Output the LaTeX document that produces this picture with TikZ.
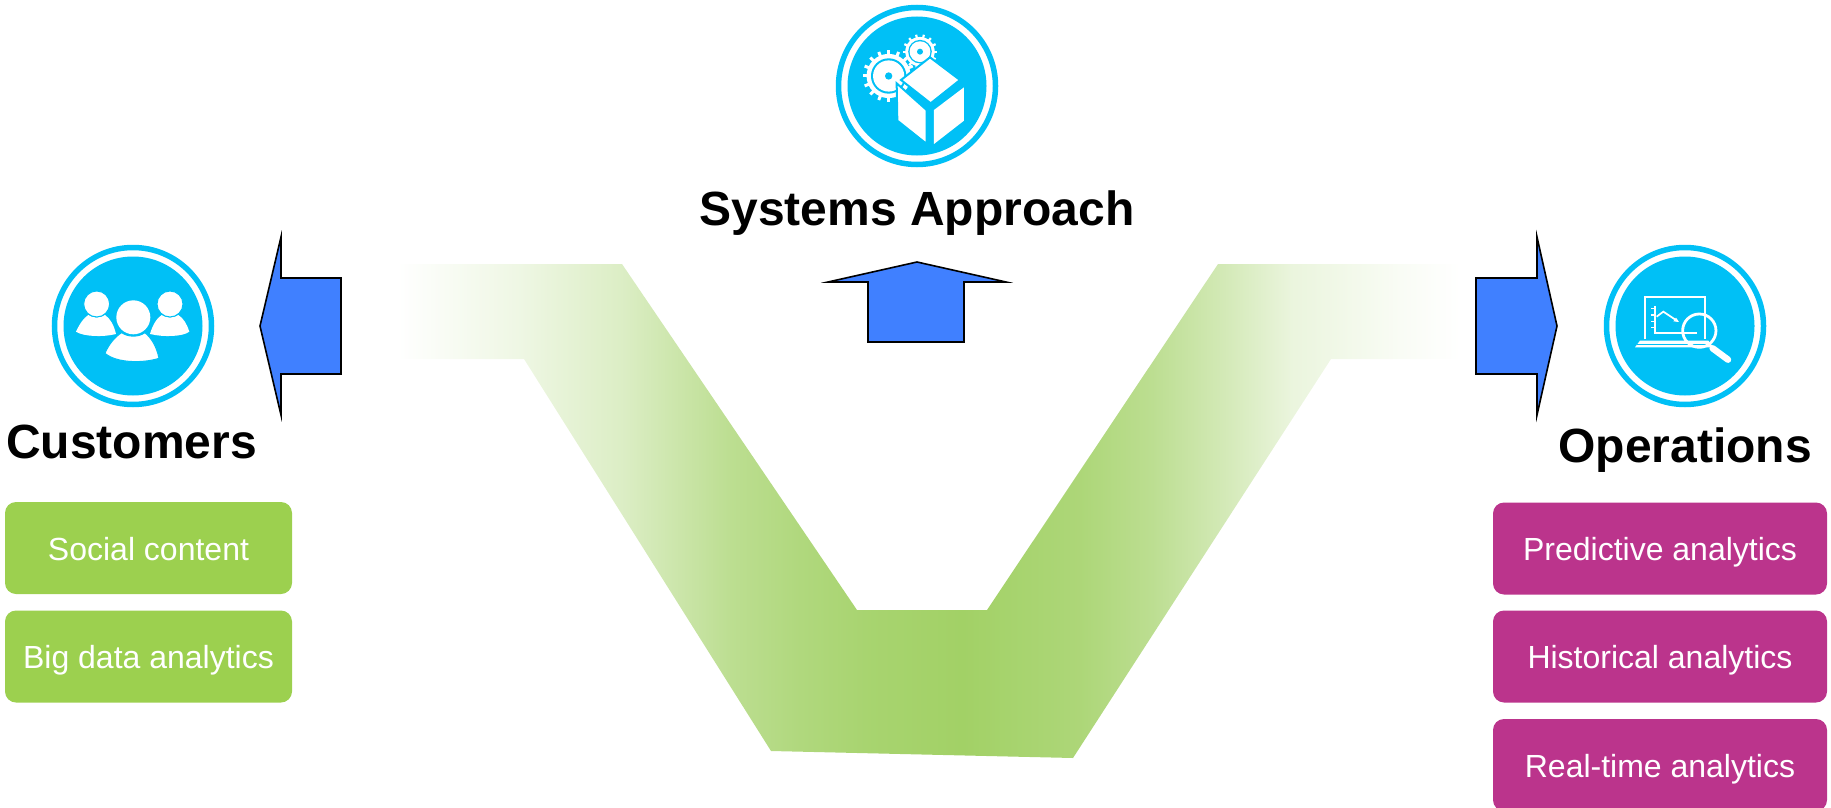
\documentclass[tikz,border=0pt]{standalone}
\usepackage{fontspec}
\setmainfont{Liberation Sans}
\definecolor{iconcyan}{HTML}{00C0F6}
\definecolor{arrowblue}{HTML}{4080FF}
\definecolor{boxgreen}{HTML}{9CD04F}
\definecolor{boxpurple}{HTML}{BB348C}
\definecolor{vgreen}{HTML}{A2D166}
\pgfdeclarehorizontalshading{vfade}{100bp}{
  color(0bp)=(white); color(25bp)=(white);
  color(30.8bp)=(vgreen!18); color(35.6bp)=(vgreen!38); color(40.7bp)=(vgreen!72);
  color(44bp)=(vgreen!85); color(47.2bp)=(vgreen!94); color(51.6bp)=(vgreen);
  color(57.2bp)=(vgreen!88); color(60.5bp)=(vgreen!72); color(63.8bp)=(vgreen!48);
  color(67.1bp)=(vgreen!22); color(72bp)=(vgreen!7); color(75bp)=(white); color(100bp)=(white)}
\tikzset{
  iconring/.style={circle, draw=iconcyan, line width=5.5pt, fill=white, minimum size=157pt, inner sep=0pt},
  icondisc/.style={circle, fill=iconcyan, minimum size=139pt, inner sep=0pt},
  flowarrow/.style={draw=black, fill=arrowblue, line width=1.6pt, miter limit=20},
  heading/.style={font=\bfseries\fontsize{48}{48}\selectfont, text=black, inner sep=0pt},
  greenbox/.style={rectangle, rounded corners=11pt, fill=boxgreen, text=white, minimum width=287pt, minimum height=92pt, inner sep=0pt, text height=24pt, text depth=0pt, font=\fontsize{32}{32}\selectfont},
  purplebox/.style={greenbox, fill=boxpurple, minimum width=334pt}
}
\newcommand{\cog}[5]{% x, y, outer radius, teeth, tooth width
  \foreach \k in {1,...,#4}
    \draw [white, line width=#5] (#1,#2) ++(\k*360/#4:#3*.8) -- ++(\k*360/#4:#3*.2);
  \fill [white] (#1,#2) circle (#3*.85);
  \fill [iconcyan] (#1,#2) circle (#3*.68);
  \fill [white] (#1,#2) circle (#3*.6);
}
\begin{document}
\begin{tikzpicture}[x=1pt, y=-1pt]
 \useasboundingbox (0,0) rectangle (1831,808);

 % the V
 \path [shading=vfade] (397,264) -- (622,264) -- (857,610) -- (987,610) -- (1218,264)
   -- (1460,264) -- (1460,359) -- (1331,359) -- (1073,758) -- (771,751) -- (524,359)
   -- (397,359) -- cycle;

 % arrows
 \draw [flowarrow] (260,326) -- (281,237) -- (281,278) -- (341,278) -- (341,374) -- (281,374) -- (281,415) -- cycle;
 \draw [flowarrow] (917,262) -- (1006,282) -- (964,282) -- (964,342) -- (868,342) -- (868,282) -- (828,282) -- cycle;
 \draw [flowarrow] (1557,326) -- (1537,237) -- (1537,278) -- (1476,278) -- (1476,374) -- (1537,374) -- (1537,415) -- cycle;

 % rings
 \node (customersring) [iconring] at (133,326) {};
 \node (customersdisc) [icondisc] at (133,326) {};
 \node (systemsring) [iconring] at (917,86) {};
 \node (systemsdisc) [icondisc] at (917,86) {};
 \node (operationsring) [iconring] at (1685,326) {};
 \node (operationsdisc) [icondisc] at (1685,326) {};

 % people
 \begin{scope}[shift={(40,230)}, x=.3333pt, y=-.3333pt]
   \fill [white] (108,305) .. controls (120,280) and (130,265) .. (145,255) .. controls (160,265) and (180,265) .. (195,255) .. controls (210,265) and (222,285) .. (228,312) .. controls (190,322) and (130,320) .. (108,305) -- cycle;
   \fill [white] (448,305) .. controls (440,280) and (430,265) .. (415,255) .. controls (400,265) and (380,265) .. (365,255) .. controls (350,265) and (338,285) .. (330,312) .. controls (370,322) and (430,320) .. (448,305) -- cycle;
   \fill [white, draw=iconcyan, line width=1pt] (170,222) circle (39);
   \fill [white, draw=iconcyan, line width=1pt] (390,222) circle (39);
   \fill [iconcyan] (280,262) circle (58);
   \fill [white, draw=iconcyan, line width=1pt] (195,370) .. controls (205,345) and (225,320) .. (245,308) .. controls (265,322) and (295,322) .. (315,308) .. controls (335,325) and (350,350) .. (357,385) .. controls (310,400) and (230,400) .. (195,370) -- cycle;
   \fill [white] (280,262) circle (51);
 \end{scope}

 % gears and box
 \begin{scope}[shift={(820,0)}, x=.3333pt, y=-.3333pt]
   \cog{206}{228}{78}{16}{3pt}
   \fill [iconcyan] (206,228) circle (11);
   \cog{300}{155}{52}{14}{2.2pt}
   \fill [iconcyan] (300,155) circle (9);
   \fill [white, draw=iconcyan, line width=2pt] (330,172) -- (420,240) -- (332,310) -- (243,240) -- cycle;
   \fill [white, draw=iconcyan, line width=2pt] (230,250) -- (320,330) -- (320,432) -- (232,362) -- cycle;
   \fill [white] (432,262) -- (432,362) -- (342,432) -- (342,330) -- cycle;
 \end{scope}

 % laptop and lens
 \begin{scope}[shift={(1460,220)}, x=.3333pt, y=-.3333pt]
   \draw [white, line width=2pt] (555,358) -- (555,232) -- (735,232) -- (735,358);
   \fill [white] (525,382) -- (540,362) -- (745,362) -- (760,382) -- cycle;
   \draw [iconcyan, line width=.8pt] (530,373) -- (750,373);
   \draw [white, line width=1.7pt] (585,258) -- (585,340) -- (710,340);
   \foreach \ytick in {265,285,305,322}
     \draw [white, line width=1.2pt] (574,\ytick) -- (585,\ytick);
   \draw [white, line width=1.7pt] (590,290) -- (610,275) -- (652,303);
   \fill [white] (657,306) -- (640,304) -- (648,293) -- cycle;
   \draw [white, line width=2.8pt] (718,332) circle (50);
   \draw [white, line width=6.5pt, line cap=round] (758,385) -- (804,419);
 \end{scope}

 % headings
 \node (customers) [heading] at (131.5,441.5) {Customers};
 \node (systems) [heading] at (917,213.5) {Systems Approach};
 \node (operations) [heading] at (1685,450.5) {Operations};

 % boxes
 \node (social) [greenbox] at (148.5,548) {Social content};
 \node (bigdata) [greenbox] at (148.5,656.5) {Big data analytics};
 \node (predictive) [purplebox] at (1660,548.5) {Predictive analytics};
 \node (historical) [purplebox] at (1660,656.5) {Historical analytics};
 \node (realtime) [purplebox] at (1660,765) {Real-time analytics};
\end{tikzpicture}
\end{document}
